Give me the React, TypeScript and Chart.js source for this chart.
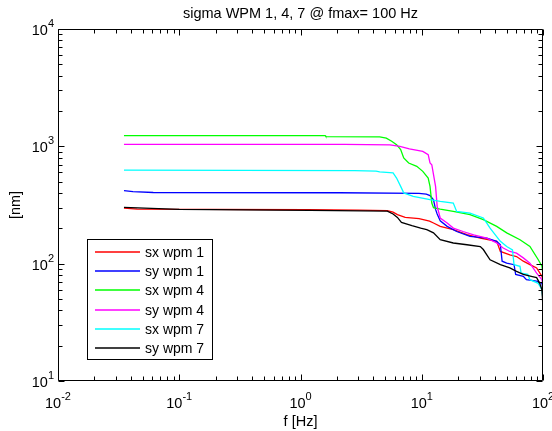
import React, { useEffect, useRef } from "react";
import { Chart, registerables } from "chart.js";

Chart.register(...registerables);

const TITLE = "sigma WPM 1, 4, 7 @ fmax= 100 Hz";
const X_LABEL = "f [Hz]";
const Y_LABEL = "[nm]";
const X_DECADES = [-2, -1, 0, 1, 2];
const Y_DECADES = [1, 2, 3, 4];
const SERIES_NAMES = ["sx wpm 1", "sy wpm 1", "sx wpm 4", "sy wpm 4", "sx wpm 7", "sy wpm 7"];
const SERIES_COLORS = ["#ff0000", "#0000ff", "#00ff00", "#ff00ff", "#00ffff", "#000000"];

// sx wpm 1 (red)
const fSx1 = [0.035, 0.045, 0.16, 1.15, 3.0, 5.2, 5.8, 6.3, 7.3, 9.5, 11.6, 12.5, 14.2, 18.2, 23.6, 30.4, 41.5, 44.5, 53.3, 60.5, 68.8, 78, 88.6, 98, 100];
const vSx1 = [298, 292, 290, 288, 286, 283, 275, 262, 248, 242, 230, 222, 208, 195, 177, 165, 155, 127, 119, 115, 105, 98, 92, 78, 72];
// sy wpm 1 (blue)
const fSy1 = [0.035, 0.0415, 0.061, 2.1, 9.5, 10.9, 11.7, 12.5, 13.0, 13.4, 14.2, 16.2, 19.4, 25, 34.4, 41.5, 44.5, 46, 50.2, 57.7, 59.5, 68.8, 73, 88.6, 98, 100];
const vSy1 = [419, 411, 404, 402, 398, 392, 380, 350, 290, 265, 232, 208, 188, 171, 165, 155, 145, 105, 101, 98, 81, 78, 73, 71, 68, 60];
// sx wpm 4 (green)
const fSx4 = [0.035, 1.6, 1.62, 4.5, 5.1, 5.65, 6.2, 6.7, 7.1, 7.8, 9.1, 10.2, 11.3, 11.7, 12.1, 12.5, 14.2, 18.2, 25, 32.2, 41.5, 50.2, 64.6, 78, 91.4, 98, 100];
const vSx4 = [1233, 1233, 1210, 1205, 1175, 1104, 1033, 937, 796, 721, 676, 612, 537, 456, 329, 300, 292, 279, 262, 237, 208, 183, 160, 140, 108, 95, 80];
// sy wpm 4 (magenta)
const fSy4 = [0.035, 2.3, 5.47, 6.6, 7.9, 10.2, 11.3, 11.7, 12.1, 13.0, 13.4, 14.2, 16.2, 18.2, 21.9, 26.8, 34.4, 41.5, 47, 53.3, 60.5, 68.8, 78, 88.6, 98, 100];
const vSy4 = [1040, 1040, 1030, 1000, 950, 906, 849, 721, 697, 456, 308, 245, 222, 201, 188, 176, 165, 150, 136, 127, 123, 112, 101, 83, 73, 65];
// sx wpm 7 (cyan)
const fSx7 = [0.035, 2.8, 4.2, 4.5, 5.8, 6.2, 6.7, 7.1, 8.5, 11.7, 14.2, 18.2, 19.4, 25, 32.2, 34.4, 36.6, 44.5, 50.2, 56, 57.7, 64.6, 66, 75, 78, 91.4, 98, 100];
const vSx7 = [628, 622, 615, 605, 594, 537, 456, 401, 375, 351, 340, 329, 279, 270, 245, 222, 201, 155, 140, 131, 98, 95, 83, 81, 73, 68, 60, 49];
// sy wpm 7 (black)
const fSy7 = [0.035, 0.1, 1.2, 5.2, 5.8, 6.3, 6.8, 8.3, 9.8, 11.0, 12.5, 14.2, 18.2, 23.6, 30.4, 32.2, 34.4, 36.6, 44.5, 53.3, 60.5, 68.8, 80, 88.6, 94, 98, 100];
const vSy7 = [302, 290, 285, 280, 265, 248, 225, 211, 201, 195, 183, 160, 150, 145, 140, 132, 119, 108, 98, 92, 86, 81, 78, 76, 68, 60, 42];

const SERIES_F = [fSx1, fSy1, fSx4, fSy4, fSx7, fSy7];
const SERIES_V = [vSx1, vSy1, vSx4, vSy4, vSx7, vSy7];

const FONT = '"Liberation Sans", Arial, Helvetica, sans-serif';
const LINE_W = 1.3;

function drawPow(ctx: CanvasRenderingContext2D, exp: number, x: number, y: number, align: "center" | "right") {
  ctx.font = `14.5px ${FONT}`;
  const wBase = ctx.measureText("10").width;
  ctx.font = `11px ${FONT}`;
  const expStr = String(exp);
  const wExp = ctx.measureText(expStr).width;
  const total = wBase + wExp;
  const left = align === "center" ? x - total / 2 : x - total;
  ctx.textAlign = "left";
  ctx.textBaseline = "alphabetic";
  ctx.font = `14.5px ${FONT}`;
  ctx.fillText("10", left, y);
  ctx.font = `11px ${FONT}`;
  ctx.fillText(expStr, left + wBase, y - 8);
}

const matlabPlugin = {
  id: "matlabAxes",
  afterDatasetsDraw(chart: any) {
    const { ctx, chartArea: a, scales } = chart;
    const xs = scales.x;
    const ys = scales.y;
    const L = Math.round(a.left) + 0.5;
    const R = Math.round(a.right) - 0.5;
    const T = Math.round(a.top) + 0.5;
    const B = Math.round(a.bottom) - 0.5;
    ctx.save();
    ctx.strokeStyle = "#000";
    ctx.lineWidth = 1;
    ctx.beginPath();
    ctx.rect(L, T, R - L, B - T);
    ctx.stroke();

    ctx.beginPath();
    X_DECADES.forEach((d) => {
      for (let m = 1; m <= 9; m++) {
        if (d === X_DECADES[X_DECADES.length - 1] && m > 1) break;
        const px = Math.round(xs.getPixelForValue(m * Math.pow(10, d))) + 0.5;
        const len = m === 1 ? 6 : 4;
        ctx.moveTo(px, B);
        ctx.lineTo(px, B - len);
        ctx.moveTo(px, T);
        ctx.lineTo(px, T + len);
      }
    });
    Y_DECADES.forEach((d) => {
      for (let m = 1; m <= 9; m++) {
        if (d === Y_DECADES[Y_DECADES.length - 1] && m > 1) break;
        const py = Math.round(ys.getPixelForValue(m * Math.pow(10, d))) + 0.5;
        const len = m === 1 ? 6 : 4;
        ctx.moveTo(L, py);
        ctx.lineTo(L + len, py);
        ctx.moveTo(R, py);
        ctx.lineTo(R - len, py);
      }
    });
    ctx.stroke();

    ctx.fillStyle = "#000";
    X_DECADES.forEach((d) => {
      const px = xs.getPixelForValue(Math.pow(10, d));
      drawPow(ctx, d, px, a.bottom + 27, "center");
    });
    Y_DECADES.forEach((d) => {
      const py = ys.getPixelForValue(Math.pow(10, d));
      drawPow(ctx, d, a.left - 4, py + 6, "right");
    });

    ctx.font = `14.5px ${FONT}`;
    ctx.textAlign = "center";
    ctx.textBaseline = "alphabetic";
    const cx = (a.left + a.right) / 2;
    ctx.fillText(TITLE, cx, 18);
    ctx.fillText(X_LABEL, cx, 426);
    ctx.save();
    ctx.translate(16, (a.top + a.bottom) / 2);
    ctx.rotate(-Math.PI / 2);
    ctx.textBaseline = "middle";
    ctx.fillText(Y_LABEL, 0, 0);
    ctx.restore();

    // legend
    const bx = 87.5, by = 239.5, bw = 125, bh = 120;
    ctx.fillStyle = "#fff";
    ctx.fillRect(bx, by, bw, bh);
    ctx.strokeStyle = "#000";
    ctx.lineWidth = 1;
    ctx.strokeRect(bx, by, bw, bh);
    ctx.font = `14px ${FONT}`;
    ctx.textAlign = "left";
    ctx.textBaseline = "middle";
    SERIES_NAMES.forEach((name, i) => {
      const yy = Math.round(252 + i * 19.2);
      ctx.strokeStyle = SERIES_COLORS[i];
      ctx.lineWidth = LINE_W;
      ctx.beginPath();
      ctx.moveTo(95, yy);
      ctx.lineTo(140, yy);
      ctx.stroke();
      ctx.fillStyle = "#000";
      ctx.fillText(name, 145, yy + 1);
    });
    ctx.restore();
  },
};

export default function App() {
  const ref = useRef<HTMLCanvasElement | null>(null);
  useEffect(() => {
    if (!ref.current) return;
    const datasets = SERIES_NAMES.map((name, i) => ({
      label: name,
      data: SERIES_F[i].map((f, j) => ({ x: f, y: SERIES_V[i][j] })),
      borderColor: SERIES_COLORS[i],
      backgroundColor: SERIES_COLORS[i],
      borderWidth: LINE_W,
      pointRadius: 0,
      tension: 0,
      fill: false,
      order: SERIES_NAMES.length - i,
    }));
    const chart = new Chart(ref.current, {
      type: "line",
      data: { datasets },
      options: {
        responsive: false,
        animation: false,
        devicePixelRatio: 1,
        layout: { padding: { left: 58, right: 9, top: 29, bottom: 50 } },
        plugins: { legend: { display: false }, title: { display: false }, tooltip: { enabled: false } },
        scales: {
          x: { type: "logarithmic", min: 0.01, max: 100, display: false },
          y: { type: "logarithmic", min: 10, max: 10000, display: false },
        },
      },
      plugins: [matlabPlugin],
    } as any);
    return () => chart.destroy();
  }, []);
  return (
    <div style={{ position: "fixed", left: 0, top: 0, width: 552, height: 431, background: "#fff" }}>
      <canvas ref={ref} width={552} height={431} style={{ display: "block" }} />
    </div>
  );
}
